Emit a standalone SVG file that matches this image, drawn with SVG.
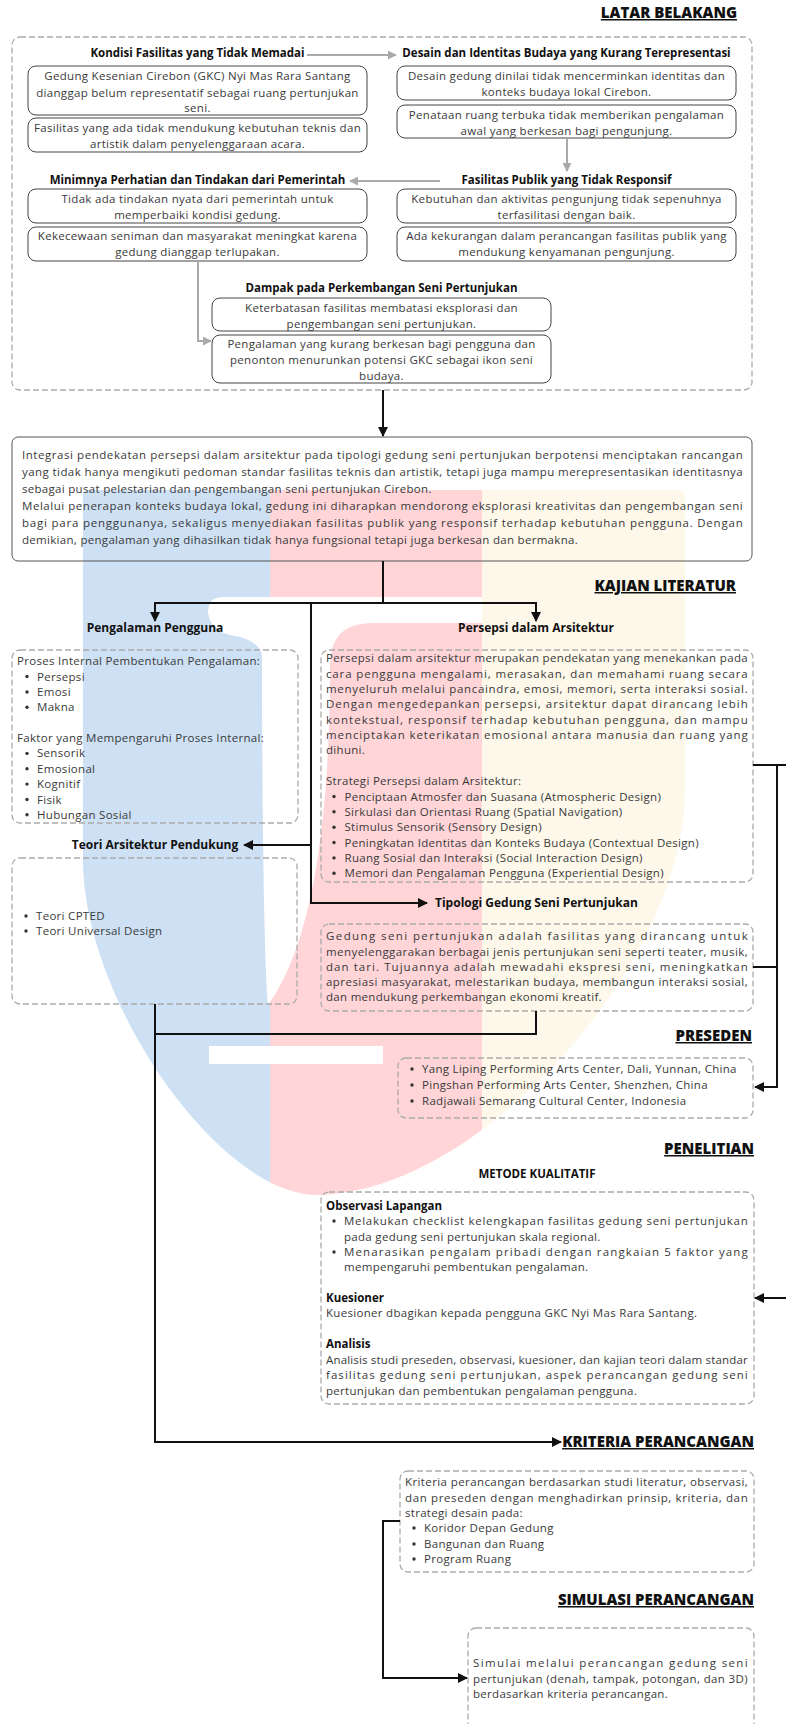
<svg xmlns="http://www.w3.org/2000/svg" width="786" height="1724" viewBox="0 0 786 1724">
<defs>
<style>
.t{font-family:"Open Sans","Liberation Sans",sans-serif;font-size:11.5px;fill:#3a3a3a;letter-spacing:0.3px}
.c{text-anchor:middle}
.h{font-family:"Open Sans","Liberation Sans",sans-serif;font-weight:700;font-size:11.5px;fill:#111}
.h2{font-family:"Open Sans","Liberation Sans",sans-serif;font-weight:700;font-size:12px;fill:#111}
.sec{font-family:"Open Sans","Liberation Sans",sans-serif;font-weight:800;font-size:15px;fill:#111;text-anchor:end;text-decoration:underline}
.box{fill:#fff;stroke:#444;stroke-width:1}
.boxf{fill:none;stroke:#555;stroke-width:1}
.dash{fill:none;stroke:#aaa;stroke-width:1.3;stroke-dasharray:6 3}
.ln{fill:none;stroke:#111;stroke-width:2}
.gl{fill:none;stroke:#aaa;stroke-width:2}
.b{fill:#333}
</style>
<marker id="ab" viewBox="0 0 10 10" refX="9" refY="5" markerWidth="10" markerHeight="10" markerUnits="userSpaceOnUse" orient="auto"><path d="M0,0 L10,5 L0,10 z" fill="#111"/></marker>
<marker id="ag" viewBox="0 0 10 10" refX="9" refY="5" markerWidth="9" markerHeight="9" markerUnits="userSpaceOnUse" orient="auto"><path d="M0,0 L10,5 L0,10 z" fill="#aaa"/></marker>
<clipPath id="wm"><path d="M83,496 Q83,490 89,490 H679 Q685,490 685,496 V790 C685,960 485,1190 320,1195 C220,1198 83,1000 83,860 Z"/></clipPath>
</defs>
<rect width="786" height="1724" fill="#fff"/>
<g id="watermark">
<g clip-path="url(#wm)">
<rect x="0" y="480" width="270" height="740" fill="#cde0f4"/>
<rect x="270" y="480" width="212" height="740" fill="#ffd5d8"/>
<rect x="482" y="480" width="304" height="740" fill="#fdf8ea"/>
</g>
<path d="M208,612 Q208,597 223,597 H482 V623 H372 Q330,623 330,665 C330,850 305,955 268,1005 C264,960 262,800 262,655 Q258,640 235,636 Q210,632 208,612 Z" fill="#fff"/>
<rect x="209" y="1046" width="174" height="18" fill="#fff"/>
</g>
<g id="section-headers">
<text class="sec" x="737" y="18">LATAR BELAKANG</text>
<text class="sec" x="736" y="591">KAJIAN LITERATUR</text>
<text class="sec" x="752" y="1041">PRESEDEN</text>
<text class="sec" x="754" y="1154">PENELITIAN</text>
<text class="sec" x="754" y="1447">KRITERIA PERANCANGAN</text>
<text class="sec" x="754" y="1605">SIMULASI PERANCANGAN</text>
</g>
<g id="latar-belakang">
<rect class="dash" x="12" y="37" width="740" height="353" rx="8"/>
</g>
<g id="n-kondisi">
<text class="h c" x="197.5" y="57">Kondisi Fasilitas yang Tidak Memadai</text>
</g>
<g id="n-a1">
<rect class="box" x="28" y="66" width="339" height="49" rx="8"/>
<text class="t c" x="197.5" y="80">Gedung Kesenian Cirebon (GKC) Nyi Mas Rara Santang</text>
<text class="t c" x="197.5" y="96.5">dianggap belum representatif sebagai ruang pertunjukan</text>
<text class="t c" x="197.5" y="112">seni.</text>
</g>
<g id="n-a2">
<rect class="box" x="28" y="118" width="339" height="34" rx="8"/>
<text class="t c" x="197.5" y="132">Fasilitas yang ada tidak mendukung kebutuhan teknis dan</text>
<text class="t c" x="197.5" y="148">artistik dalam penyelenggaraan acara.</text>
</g>
<g id="n-desain">
<text class="h c" x="566.5" y="57">Desain dan Identitas Budaya yang Kurang Terepresentasi</text>
</g>
<g id="n-b1">
<rect class="box" x="397" y="66" width="339" height="34" rx="8"/>
<text class="t c" x="566.5" y="80">Desain gedung dinilai tidak mencerminkan identitas dan</text>
<text class="t c" x="566.5" y="96">konteks budaya lokal Cirebon.</text>
</g>
<g id="n-b2">
<rect class="box" x="397" y="105" width="339" height="33" rx="8"/>
<text class="t c" x="566.5" y="119">Penataan ruang terbuka tidak memberikan pengalaman</text>
<text class="t c" x="566.5" y="134.5">awal yang berkesan bagi pengunjung.</text>
</g>
<g id="n-minim">
<text class="h c" x="197.5" y="184">Minimnya Perhatian dan Tindakan dari Pemerintah</text>
</g>
<g id="n-c1">
<rect class="box" x="28" y="189" width="339" height="34" rx="8"/>
<text class="t c" x="197.5" y="202.5">Tidak ada tindakan nyata dari pemerintah untuk</text>
<text class="t c" x="197.5" y="219">memperbaiki kondisi gedung.</text>
</g>
<g id="n-c2">
<rect class="box" x="28" y="227" width="339" height="34" rx="8"/>
<text class="t c" x="197.5" y="240">Kekecewaan seniman dan masyarakat meningkat karena</text>
<text class="t c" x="197.5" y="256">gedung dianggap terlupakan.</text>
</g>
<g id="n-fasilitas">
<text class="h c" x="566.5" y="184">Fasilitas Publik yang Tidak Responsif</text>
</g>
<g id="n-d1">
<rect class="box" x="397" y="189" width="339" height="34" rx="8"/>
<text class="t c" x="566.5" y="202.5">Kebutuhan dan aktivitas pengunjung tidak sepenuhnya</text>
<text class="t c" x="566.5" y="219">terfasilitasi dengan baik.</text>
</g>
<g id="n-d2">
<rect class="box" x="397" y="227" width="339" height="34" rx="8"/>
<text class="t c" x="566.5" y="240">Ada kekurangan dalam perancangan fasilitas publik yang</text>
<text class="t c" x="566.5" y="256">mendukung kenyamanan pengunjung.</text>
</g>
<g id="n-dampak">
<text class="h c" x="381.5" y="292">Dampak pada Perkembangan Seni Pertunjukan</text>
</g>
<g id="n-e1">
<rect class="box" x="212" y="298" width="339" height="33" rx="8"/>
<text class="t c" x="381.5" y="312">Keterbatasan fasilitas membatasi eksplorasi dan</text>
<text class="t c" x="381.5" y="328">pengembangan seni pertunjukan.</text>
</g>
<g id="n-e2">
<rect class="box" x="212" y="335" width="339" height="48" rx="8"/>
<text class="t c" x="381.5" y="347.5">Pengalaman yang kurang berkesan bagi pengguna dan</text>
<text class="t c" x="381.5" y="363.5">penonton menurunkan potensi GKC sebagai ikon seni</text>
<text class="t c" x="381.5" y="379.5">budaya.</text>
</g>
<g id="n-integrasi">
<rect class="boxf" x="12" y="437" width="740" height="124" rx="6"/>
<text class="t" x="22" y="459" textLength="721" lengthAdjust="spacing">Integrasi pendekatan persepsi dalam arsitektur pada tipologi gedung seni pertunjukan berpotensi menciptakan rancangan</text>
<text class="t" x="22" y="476" textLength="721" lengthAdjust="spacing">yang tidak hanya mengikuti pedoman standar fasilitas teknis dan artistik, tetapi juga mampu merepresentasikan identitasnya</text>
<text class="t" x="22" y="493">sebagai pusat pelestarian dan pengembangan seni pertunjukan Cirebon.</text>
<text class="t" x="22" y="510" textLength="721" lengthAdjust="spacing">Melalui penerapan konteks budaya lokal, gedung ini diharapkan mendorong eksplorasi kreativitas dan pengembangan seni</text>
<text class="t" x="22" y="527" textLength="721" lengthAdjust="spacing">bagi para penggunanya, sekaligus menyediakan fasilitas publik yang responsif terhadap kebutuhan pengguna. Dengan</text>
<text class="t" x="22" y="544">demikian, pengalaman yang dihasilkan tidak hanya fungsional tetapi juga berkesan dan bermakna.</text>
</g>
<g id="n-pengalaman">
<text class="h2 c" x="155" y="632">Pengalaman Pengguna</text>
<rect class="dash" x="12" y="650" width="286" height="173" rx="8"/>
<text class="t" x="17" y="665">Proses Internal Pembentukan Pengalaman:</text>
<circle class="b" cx="27" cy="676.5" r="1.7"/><text class="t" x="37" y="680.5">Persepsi</text>
<circle class="b" cx="27" cy="692" r="1.7"/><text class="t" x="37" y="696">Emosi</text>
<circle class="b" cx="27" cy="707.3" r="1.7"/><text class="t" x="37" y="711.3">Makna</text>
<text class="t" x="17" y="742">Faktor yang Mempengaruhi Proses Internal:</text>
<circle class="b" cx="27" cy="753.4" r="1.7"/><text class="t" x="37" y="757.4">Sensorik</text>
<circle class="b" cx="27" cy="768.8" r="1.7"/><text class="t" x="37" y="772.8">Emosional</text>
<circle class="b" cx="27" cy="784.1" r="1.7"/><text class="t" x="37" y="788.1">Kognitif</text>
<circle class="b" cx="27" cy="799.5" r="1.7"/><text class="t" x="37" y="803.5">Fisik</text>
<circle class="b" cx="27" cy="814.8" r="1.7"/><text class="t" x="37" y="818.8">Hubungan Sosial</text>
</g>
<g id="n-persepsi">
<text class="h2 c" x="536" y="632">Persepsi dalam Arsitektur</text>
<rect class="dash" x="321" y="650" width="432" height="232" rx="8"/>
<text class="t" x="326" y="662.3" textLength="422" lengthAdjust="spacing">Persepsi dalam arsitektur merupakan pendekatan yang menekankan pada</text>
<text class="t" x="326" y="677.7" textLength="422" lengthAdjust="spacing">cara pengguna mengalami, merasakan, dan memahami ruang secara</text>
<text class="t" x="326" y="693" textLength="422" lengthAdjust="spacing">menyeluruh melalui pancaindra, emosi, memori, serta interaksi sosial.</text>
<text class="t" x="326" y="708.4" textLength="422" lengthAdjust="spacing">Dengan mengedepankan persepsi, arsitektur dapat dirancang lebih</text>
<text class="t" x="326" y="723.7" textLength="422" lengthAdjust="spacing">kontekstual, responsif terhadap kebutuhan pengguna, dan mampu</text>
<text class="t" x="326" y="739.1" textLength="422" lengthAdjust="spacing">menciptakan keterikatan emosional antara manusia dan ruang yang</text>
<text class="t" x="326" y="754.4">dihuni.</text>
<text class="t" x="326" y="785.1">Strategi Persepsi dalam Arsitektur:</text>
<circle class="b" cx="334" cy="796.5" r="1.7"/><text class="t" x="344.5" y="800.5">Penciptaan Atmosfer dan Suasana (Atmospheric Design)</text>
<circle class="b" cx="334" cy="811.8" r="1.7"/><text class="t" x="344.5" y="815.8">Sirkulasi dan Orientasi Ruang (Spatial Navigation)</text>
<circle class="b" cx="334" cy="827.2" r="1.7"/><text class="t" x="344.5" y="831.2">Stimulus Sensorik (Sensory Design)</text>
<circle class="b" cx="334" cy="842.5" r="1.7"/><text class="t" x="344.5" y="846.5">Peningkatan Identitas dan Konteks Budaya (Contextual Design)</text>
<circle class="b" cx="334" cy="857.9" r="1.7"/><text class="t" x="344.5" y="861.9">Ruang Sosial dan Interaksi (Social Interaction Design)</text>
<circle class="b" cx="334" cy="873.2" r="1.7"/><text class="t" x="344.5" y="877.2">Memori dan Pengalaman Pengguna (Experiential Design)</text>
</g>
<g id="n-teori">
<text class="h2 c" x="155" y="849">Teori Arsitektur Pendukung</text>
<rect class="dash" x="12" y="858" width="285" height="146" rx="8"/>
<circle class="b" cx="26" cy="916" r="1.7"/><text class="t" x="36" y="920">Teori CPTED</text>
<circle class="b" cx="26" cy="931" r="1.7"/><text class="t" x="36" y="935">Teori Universal Design</text>
</g>
<g id="n-tipologi">
<text class="h2" x="435" y="907">Tipologi Gedung Seni Pertunjukan</text>
<rect class="dash" x="321" y="924" width="432" height="87" rx="8"/>
<text class="t" x="326" y="940" textLength="422" lengthAdjust="spacing">Gedung seni pertunjukan adalah fasilitas yang dirancang untuk</text>
<text class="t" x="326" y="955.5" textLength="422" lengthAdjust="spacing">menyelenggarakan berbagai jenis pertunjukan seni seperti teater, musik,</text>
<text class="t" x="326" y="971" textLength="422" lengthAdjust="spacing">dan tari. Tujuannya adalah mewadahi ekspresi seni, meningkatkan</text>
<text class="t" x="326" y="986" textLength="422" lengthAdjust="spacing">apresiasi masyarakat, melestarikan budaya, membangun interaksi sosial,</text>
<text class="t" x="326" y="1001">dan mendukung perkembangan ekonomi kreatif.</text>
</g>
<g id="n-preseden">
<rect class="dash" x="398" y="1058" width="355" height="60" rx="8"/>
<circle class="b" cx="412" cy="1069" r="1.7"/><text class="t" x="422" y="1073">Yang Liping Performing Arts Center, Dali, Yunnan, China</text>
<circle class="b" cx="412" cy="1085" r="1.7"/><text class="t" x="422" y="1089">Pingshan Performing Arts Center, Shenzhen, China</text>
<circle class="b" cx="412" cy="1101" r="1.7"/><text class="t" x="422" y="1105">Radjawali Semarang Cultural Center, Indonesia</text>
</g>
<g id="n-penelitian">
<text class="h c" x="537" y="1178">METODE KUALITATIF</text>
<rect class="dash" x="321" y="1192" width="433" height="212" rx="8"/>
<text class="h" x="326" y="1210">Observasi Lapangan</text>
<circle class="b" cx="334" cy="1221" r="1.7"/><text class="t" x="344" y="1225" textLength="404" lengthAdjust="spacing">Melakukan checklist kelengkapan fasilitas gedung seni pertunjukan</text>
<text class="t" x="344" y="1240.5">pada gedung seni pertunjukan skala regional.</text>
<circle class="b" cx="334" cy="1252" r="1.7"/><text class="t" x="344" y="1256" textLength="404" lengthAdjust="spacing">Menarasikan pengalam pribadi dengan rangkaian 5 faktor yang</text>
<text class="t" x="344" y="1271">mempengaruhi pembentukan pengalaman.</text>
<text class="h" x="326" y="1302">Kuesioner</text>
<text class="t" x="326" y="1317">Kuesioner dbagikan kepada pengguna GKC Nyi Mas Rara Santang.</text>
<text class="h" x="326" y="1348">Analisis</text>
<text class="t" x="326" y="1364" textLength="422" lengthAdjust="spacing">Analisis studi preseden, observasi, kuesioner, dan kajian teori dalam standar</text>
<text class="t" x="326" y="1379" textLength="422" lengthAdjust="spacing">fasilitas gedung seni pertunjukan, aspek perancangan gedung seni</text>
<text class="t" x="326" y="1395">pertunjukan dan pembentukan pengalaman pengguna.</text>
</g>
<g id="n-kriteria">
<rect class="dash" x="400" y="1471" width="354" height="101" rx="8"/>
<text class="t" x="405" y="1486" textLength="343" lengthAdjust="spacing">Kriteria perancangan berdasarkan studi literatur, observasi,</text>
<text class="t" x="405" y="1502" textLength="343" lengthAdjust="spacing">dan preseden dengan menghadirkan prinsip, kriteria, dan</text>
<text class="t" x="405" y="1517">strategi desain pada:</text>
<circle class="b" cx="414" cy="1528" r="1.7"/><text class="t" x="424" y="1532">Koridor Depan Gedung</text>
<circle class="b" cx="414" cy="1544" r="1.7"/><text class="t" x="424" y="1548">Bangunan dan Ruang</text>
<circle class="b" cx="414" cy="1559" r="1.7"/><text class="t" x="424" y="1563">Program Ruang</text>
</g>
<g id="n-simulasi">
<rect class="dash" x="468" y="1628" width="286" height="120" rx="8"/>
<text class="t" x="473" y="1667" textLength="275" lengthAdjust="spacing">Simulai melalui perancangan gedung seni</text>
<text class="t" x="473" y="1683" textLength="275" lengthAdjust="spacing">pertunjukan (denah, tampak, potongan, dan 3D)</text>
<text class="t" x="473" y="1698">berdasarkan kriteria perancangan.</text>
</g>
<g id="connectors">
<path class="gl" d="M307,55 H396" marker-end="url(#ag)"/>
<path class="gl" d="M567,138 V171" marker-end="url(#ag)"/>
<path class="gl" d="M440,181 H350" marker-end="url(#ag)"/>
<path class="gl" d="M198,261 V341 H211" marker-end="url(#ag)"/>
<path class="ln" d="M383,390 V436" marker-end="url(#ab)"/>
<path class="ln" d="M383,561 V603"/>
<path class="ln" d="M155,603 H536"/>
<path class="ln" d="M155,602 V621" marker-end="url(#ab)"/>
<path class="ln" d="M536,602 V621" marker-end="url(#ab)"/>
<path class="ln" d="M311,603 V903 H427" marker-end="url(#ab)"/>
<path class="ln" d="M311,845 H244" marker-end="url(#ab)"/>
<path class="ln" d="M753,765 H786"/>
<path class="ln" d="M777,765 V1087 H755" marker-end="url(#ab)"/>
<path class="ln" d="M753,967 H777"/>
<path class="ln" d="M786,1298 H755" marker-end="url(#ab)"/>
<path class="ln" d="M536,1011 V1034 H155"/>
<path class="ln" d="M155,1004 V1442 H561" marker-end="url(#ab)"/>
<path class="ln" d="M400,1521 H383 V1678 H467" marker-end="url(#ab)"/>
</g>
</svg>
